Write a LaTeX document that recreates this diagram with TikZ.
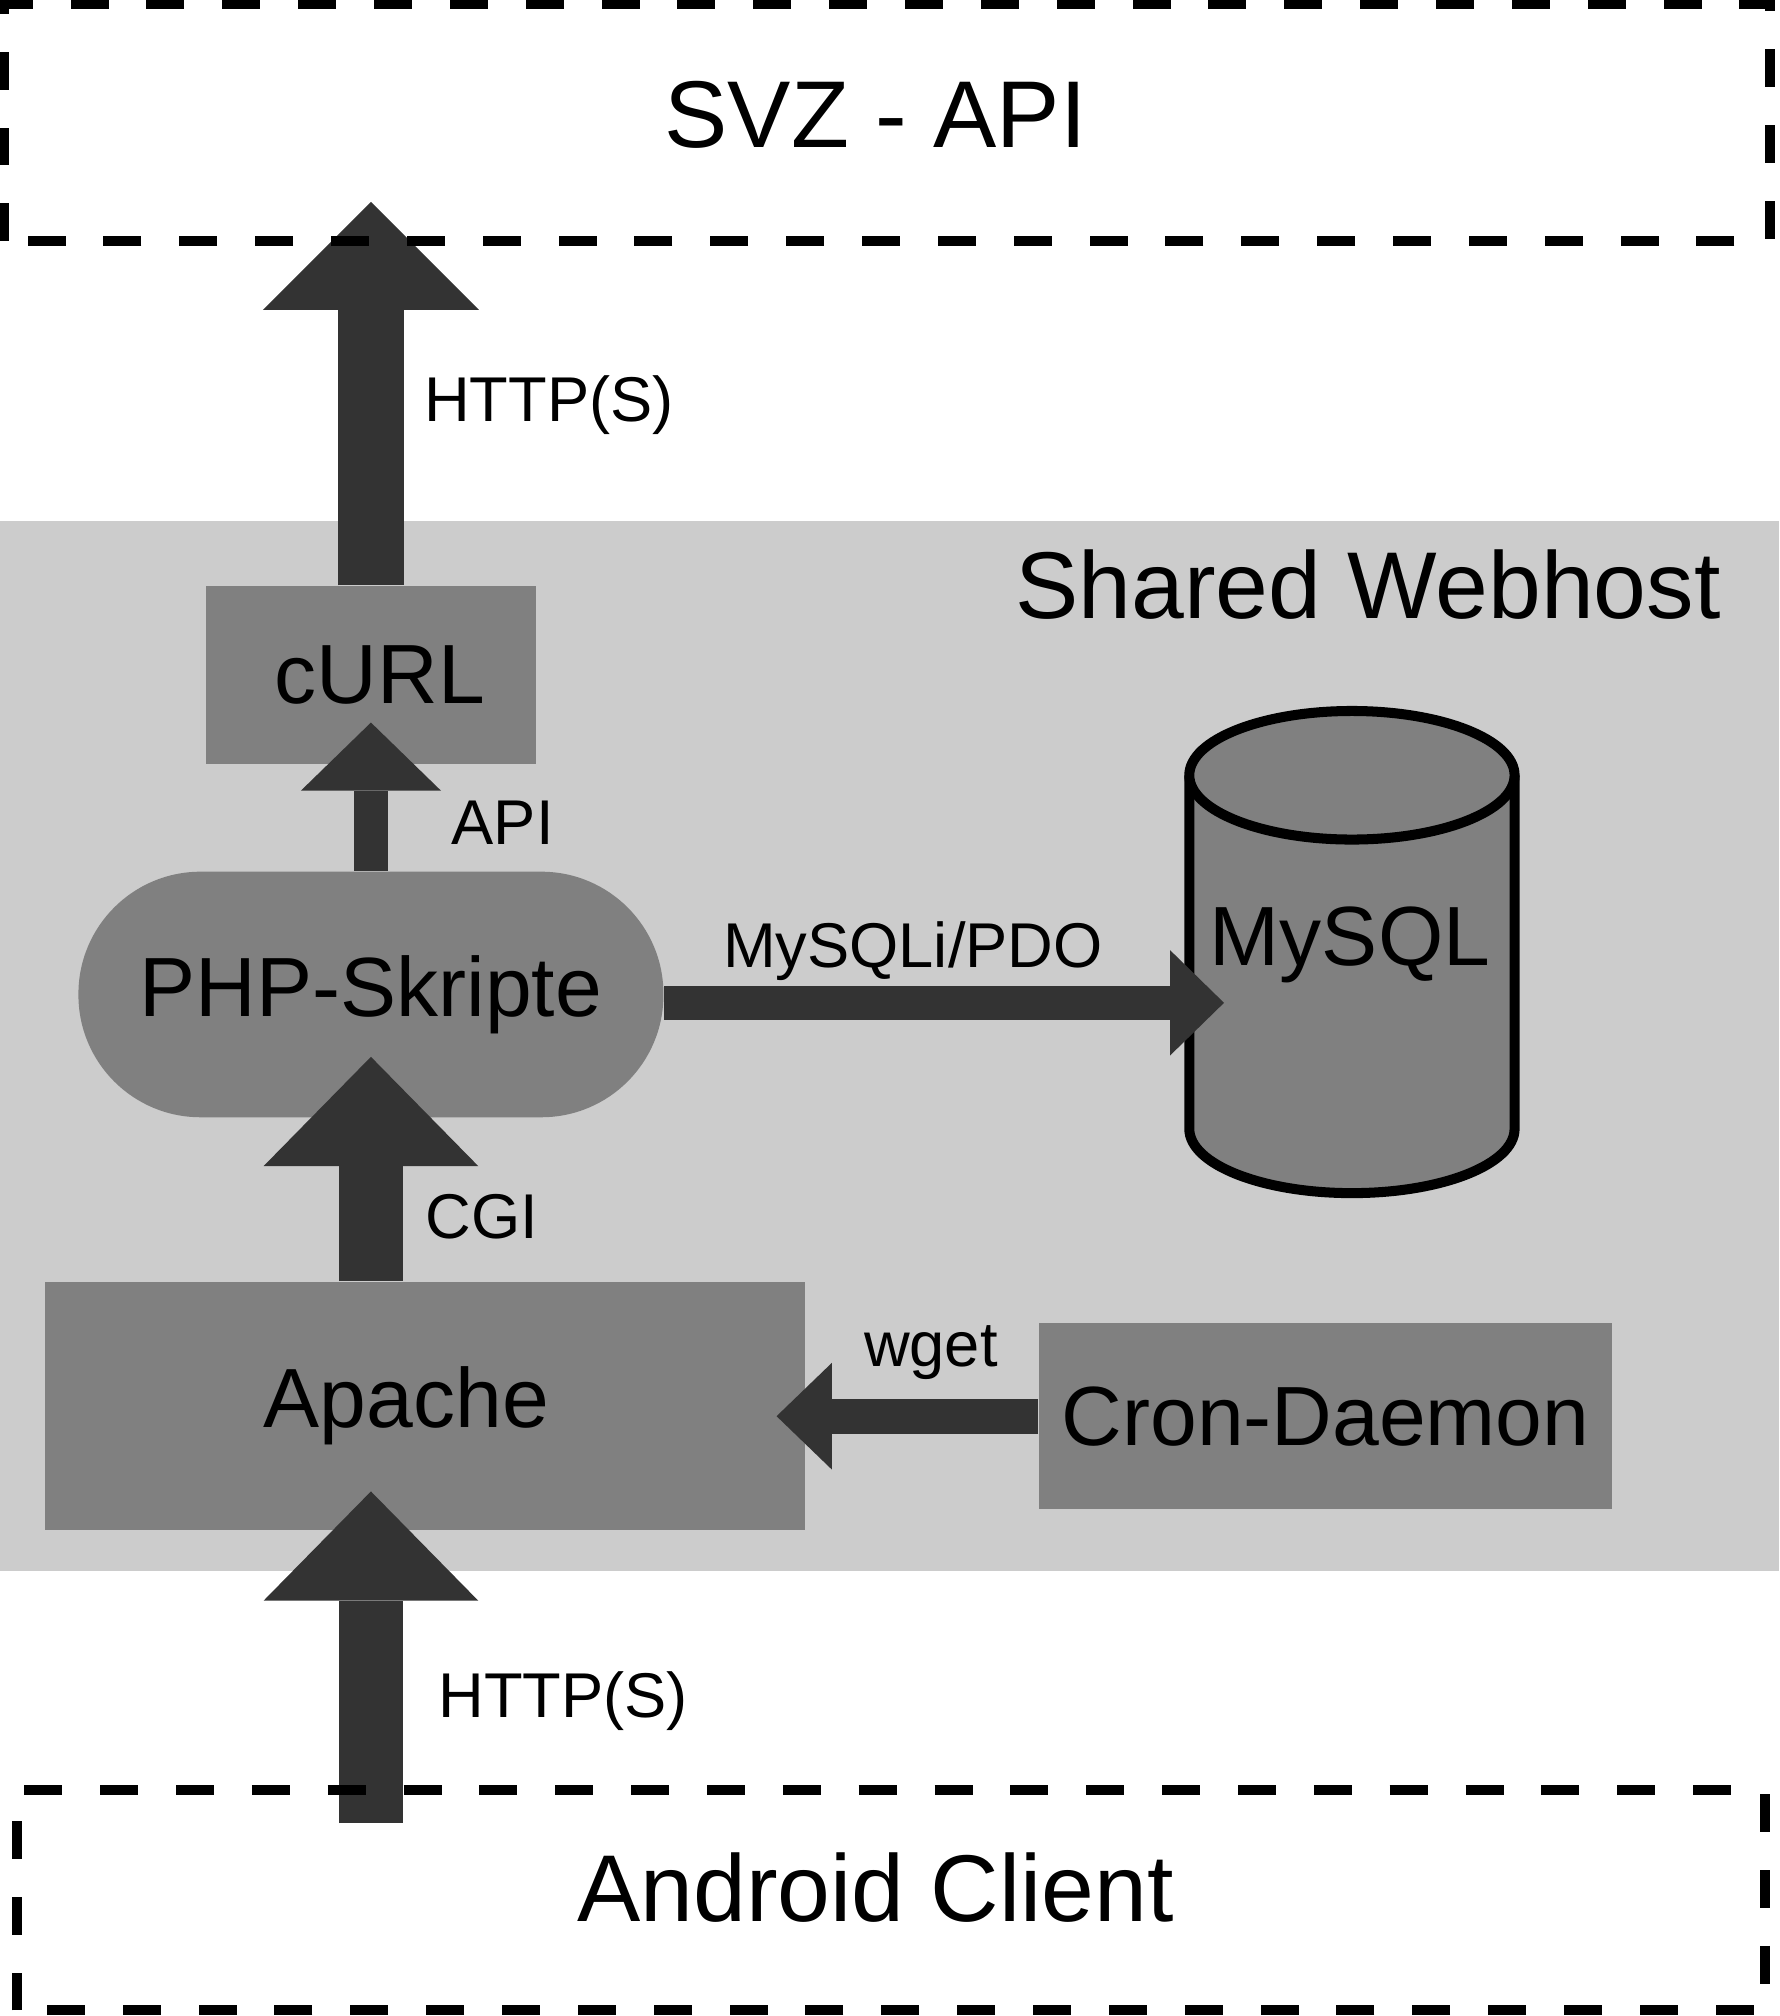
\documentclass[tikz,border=0pt]{standalone}
\usepackage{fontspec}
\setmainfont{Liberation Sans}
\usetikzlibrary{arrows.meta,positioning}

\definecolor{hostgray}{HTML}{CCCCCC}
\definecolor{boxgray}{HTML}{808080}
\definecolor{arrowgray}{HTML}{333333}

\tikzset{
  box/.style={fill=boxgray, inner sep=0pt, font=\fontsize{18.6}{22}\selectfont},
  extern/.style={line width=0.078cm, dash pattern=on 0.295cm off 0.295cm},
  big/.style={inner sep=0pt, font=\fontsize{21}{25}\selectfont},
  lbl/.style={inner sep=0pt, font=\fontsize{14}{17}\selectfont},
  fat/.style n args={3}{draw=arrowgray, line width=#1,
    -{Triangle[width=#2, length=#3, line width=0pt]}},
}

\begin{document}
\begin{tikzpicture}
  \useasboundingbox (0,0) rectangle (13.84,15.68);
  \fill[hostgray] (0,3.46) rectangle (13.84,11.63);

  % Define nodes
  \node[minimum width=13.72cm, minimum height=1.83cm,
    label={[big, xshift=-0.09cm, yshift=0.06cm]center:SVZ - API}] (svz) at (6.90,14.725) {};
  \node[minimum width=13.58cm, minimum height=1.70cm,
    label={[big, xshift=-0.12cm, yshift=0.10cm]center:Android Client}] (client) at (6.93,0.90) {};
  \node[big] (host) at (10.64,11.13) {Shared Webhost};
  \node[box, minimum width=2.56cm, minimum height=1.38cm,
    label={[box, fill=none, xshift=0.07cm]center:cURL}] (curl) at (2.885,10.43) {};
  \node[box, rounded corners=0.95cm, minimum width=4.55cm, minimum height=1.91cm] (php) at (2.885,7.945) {PHP-Skripte};
  \node[box, minimum width=5.91cm, minimum height=1.93cm,
    label={[box, fill=none, xshift=-0.145cm]center:Apache}] (apache) at (3.305,4.745) {};
  \node[box, minimum width=4.46cm, minimum height=1.45cm] (cron) at (10.31,4.665) {Cron-Daemon};

  % Database
  \draw[fill=boxgray, line width=0.078cm] (9.25,9.65) -- (9.25,6.90)
    arc[start angle=180, end angle=360, x radius=1.265, y radius=0.5] -- (11.78,9.65);
  \draw[fill=boxgray, line width=0.078cm] (10.515,9.65) ellipse [x radius=1.265, y radius=0.5];
  \node[box, fill=none] (mysql) at (10.50,8.33) {MySQL};

  % Arrow ends
  \coordinate (svzin) at (2.885,14.11);
  \coordinate (curlin) at (2.885,10.06);
  \coordinate (dbin) at (9.52,7.88);
  \coordinate (phpin) at (2.885,7.46);
  \coordinate (apachein) at (6.04,4.665);
  \coordinate (apachebot) at (2.885,4.08);
  \coordinate (clientout) at (2.885,1.50);

  % Connect the nodes
  \draw[fat={0.51cm}{1.68cm}{0.84cm}] (curl.north) -- (svzin);
  \draw[fat={0.27cm}{1.09cm}{0.53cm}] (php.north) -- (curlin);
  \draw[fat={0.26cm}{0.82cm}{0.42cm}] (php.east |- dbin) -- (dbin);
  \draw[fat={0.50cm}{1.67cm}{0.85cm}] (php |- apache.north) -- (phpin);
  \draw[fat={0.27cm}{0.83cm}{0.43cm}] (cron.west) -- (apachein);
  \draw[fat={0.50cm}{1.67cm}{0.85cm}] (clientout) -- (apachebot);

  % External systems
  \draw[extern] (svz.south west) rectangle (svz.north east);
  \draw[extern] (client.south west) rectangle (client.north east);

  % Labels
  \node[lbl] (http1) at (4.27,12.53) {HTTP(S)};
  \node[lbl] (api) at (3.91,9.28) {API};
  \node[lbl] (pdo) at (7.10,8.28) {MySQLi/PDO};
  \node[lbl] (cgi) at (3.75,6.22) {CGI};
  \node[lbl] (wget) at (7.24,5.16) {wget};
  \node[lbl] (http2) at (4.38,2.45) {HTTP(S)};
\end{tikzpicture}
\end{document}
